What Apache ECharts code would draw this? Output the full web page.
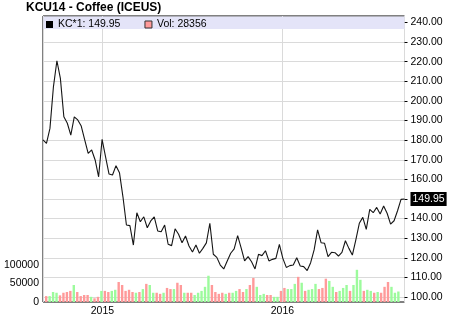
<!DOCTYPE html>
<html>
<head>
<meta charset="utf-8">
<script src="https://cdn.jsdelivr.net/npm/echarts@6/dist/echarts.min.js"></script>
<style>html,body{margin:0;padding:0;background:#fff}#c{width:450px;height:317px}</style>
</head>
<body>
<div id="c"></div>
<script>
// ---- data ----
const chartTitle = 'KCU14 - Coffee (ICEUS)';
const seriesStart = '2014-09-05'; // first weekly price point
// weekly closing prices (KC*1)
const prices = [
  180.1, 178.4, 186.0, 207.2, 220.5, 211.5, 191.9, 188.6, 182.6, 191.9,
  190.3, 187.2, 180.1, 173.3, 175.0, 169.9, 161.3, 180.4, 171.5, 162.7,
  162.2, 167.0, 163.4, 151.1, 136.7, 136.4, 126.5, 143.0, 138.4, 140.9,
  135.3, 138.8, 140.9, 133.7, 133.3, 136.7, 126.9, 126.2, 134.8, 132.0,
  127.7, 131.1, 126.0, 122.9, 126.5, 122.3, 124.8, 127.6, 137.6, 121.8,
  120.2, 116.3, 114.3, 118.4, 122.3, 124.5, 131.3, 125.1, 118.4, 120.6,
  118.0, 114.3, 121.8, 121.1, 123.6, 118.4, 119.2, 119.7, 126.9, 119.7,
  115.1, 116.0, 116.3, 120.0, 115.8, 115.5, 113.5, 117.5, 124.0, 134.2,
  127.7, 127.4, 120.6, 122.8, 122.6, 120.9, 122.8, 128.7, 124.8, 121.4,
  129.1, 137.6, 140.6, 134.5, 144.7, 143.0, 145.7, 142.3, 146.4, 142.7,
  137.2, 138.9, 144.0, 149.8, 149.95
];
// weekly volume
const volumes = [
  16000, 16000, 27000, 25000, 18000, 25000, 27000, 30000, 46000, 27000,
  16000, 19000, 19000, 14000, 10000, 14000, 30000, 30000, 27000, 30000,
  33000, 54000, 46000, 30000, 33000, 27000, 25000, 27000, 35000, 49000,
  46000, 25000, 25000, 22000, 25000, 38000, 35000, 35000, 52000, 46000,
  25000, 25000, 25000, 19000, 25000, 30000, 41000, 71000, 46000, 27000,
  22000, 25000, 22000, 25000, 25000, 30000, 35000, 27000, 35000, 46000,
  65000, 41000, 19000, 22000, 19000, 19000, 14000, 14000, 30000, 38000,
  35000, 35000, 49000, 68000, 52000, 30000, 33000, 35000, 49000, 35000,
  38000, 63000, 57000, 41000, 27000, 30000, 38000, 46000, 30000, 46000,
  87000, 60000, 30000, 33000, 30000, 25000, 27000, 25000, 41000, 54000,
  41000, 25000, 28356
];
// volume bar direction: 1 = up week, -1 = down week
const volumeDirection = [
  -1, 1, 1, 1, -1, -1, -1, -1, 1, -1,
  -1, -1, -1, 1, -1, -1, 1, -1, -1, 1,
  1, -1, -1, -1, -1, -1, 1, -1, 1, -1,
  1, 1, -1, -1, 1, -1, -1, 1, -1, -1,
  1, -1, -1, 1, 1, 1, 1, 1, -1, -1,
  -1, -1, 1, -1, 1, 1, -1, -1, 1, -1,
  -1, 1, 1, 1, -1, -1, 1, 1, -1, -1,
  1, 1, 1, -1, 1, -1, 1, 1, 1, -1,
  -1, -1, 1, 1, -1, 1, 1, 1, -1, 1,
  1, 1, -1, 1, 1, -1, 1, -1, -1, -1,
  1, 1, 1
];
const volumeTicks = [0, 50000, 100000];

// ---- build ----
const DAY = 86400000;
const t0 = Date.parse(seriesStart + 'T00:00:00Z');
const xMin = t0;
const xMax = t0 + (prices.length - 1) * 7 * DAY;
const lineData = prices.map((v, k) => [t0 + k * 7 * DAY, v]);
const barData = volumes.map((v, i) => [t0 + (i * 7 + 4) * DAY, v]);
const lastPrice = prices[prices.length - 1];
const lastVol = volumes[volumes.length - 1];
const priceName = 'KC*1: ' + lastPrice.toFixed(2);
const volName = 'Vol: ' + lastVol;

const FONT = '"Liberation Sans", Arial, sans-serif';
const GRIDC = '#dadada';
const chart = echarts.init(document.getElementById('c'), null, {renderer: 'canvas'});
chart.setOption({
  animation: false,
  useUTC: true,
  backgroundColor: '#fff',
  textStyle: {fontFamily: FONT},
  title: {
    text: chartTitle, left: 26, top: 1, padding: [1, 0, 0, 0],
    textStyle: {fontSize: 12, fontWeight: 'bold', color: '#000', fontFamily: FONT}
  },
  legend: {
    left: 46, top: 19, itemWidth: 7, itemHeight: 7, itemGap: 24, padding: 0,
    selectedMode: false,
    textStyle: {fontSize: 10.5, color: '#000', fontFamily: FONT},
    data: [
      {name: priceName, icon: 'rect', itemStyle: {color: '#000'}},
      {name: volName, icon: 'rect', itemStyle: {color: '#ff9a9a', borderColor: '#333', borderWidth: 1}}
    ],
    z: 5
  },
  graphic: [{
    type: 'rect', left: 43.5, top: 16.5, z: 1,
    shape: {width: 361, height: 12.5},
    style: {fill: '#e4e4f8'}
  }],
  grid: [
    {left: 43, right: 45.5, top: 16, bottom: 15, show: true, borderColor: '#000', borderWidth: 1, backgroundColor: '#fff'},
    {left: 43, right: 45.5, top: 22.5, height: 274.5, show: false}
  ],
  xAxis: [
    {
      gridIndex: 0, type: 'time', min: xMin, max: xMax,
      splitNumber: 2, minInterval: 365 * DAY, maxInterval: 366 * DAY,
      axisLine: {show: false}, axisTick: {show: false},
      splitLine: {show: true, lineStyle: {color: GRIDC, width: 1}},
      axisLabel: {
        margin: 4, fontSize: 10.5, color: '#000', fontFamily: FONT,
        showMinLabel: false, showMaxLabel: false,
        formatter: function (v) {
          const d = new Date(v);
          return (d.getUTCMonth() === 0 && d.getUTCDate() === 1) ? String(d.getUTCFullYear()) : '';
        }
      }
    },
    {gridIndex: 1, type: 'time', min: xMin, max: xMax, show: false}
  ],
  yAxis: [
    {
      gridIndex: 0, type: 'value', position: 'left', min: 0, max: 773000, interval: 50000,
      splitLine: {show: false}, axisLine: {show: false}, axisTick: {show: false},
      axisLabel: {
        margin: 4, fontSize: 10.5, color: '#000', fontFamily: FONT,
        formatter: v => volumeTicks.indexOf(v) >= 0 ? String(v) : ''
      }
    },
    {
      gridIndex: 1, type: 'value', position: 'right', min: 100, max: 240, interval: 10,
      splitLine: {show: true, lineStyle: {color: GRIDC, width: 1}},
      axisLine: {show: false},
      axisTick: {show: true, length: 3, lineStyle: {color: '#000'}},
      axisLabel: {
        margin: 6, fontSize: 10.5, color: '#000', fontFamily: FONT,
        formatter: v => Math.abs(v - Math.round(lastPrice / 10) * 10) < 0.001 ? '' : v.toFixed(2)
      }
    }
  ],
  series: [
    {
      name: volName, type: 'bar', xAxisIndex: 0, yAxisIndex: 0,
      data: barData, barWidth: 2.4, z: 2,
      itemStyle: {color: p => volumeDirection[p.dataIndex] > 0 ? '#9cfb9c' : '#ff9a9a'}
    },
    {
      name: priceName, type: 'line', xAxisIndex: 1, yAxisIndex: 1,
      data: lineData, symbol: 'none', showSymbol: false, z: 3,
      lineStyle: {color: '#151515', width: 1.1},
      itemStyle: {color: '#000'},
      endLabel: {
        show: true, distance: 6, fontSize: 10.5, fontFamily: FONT,
        color: '#fff', backgroundColor: '#000', padding: [2, 2, 1, 2],
        formatter: p => p.value[1].toFixed(2)
      }
    }
  ]
});
</script>
</body>
</html>
